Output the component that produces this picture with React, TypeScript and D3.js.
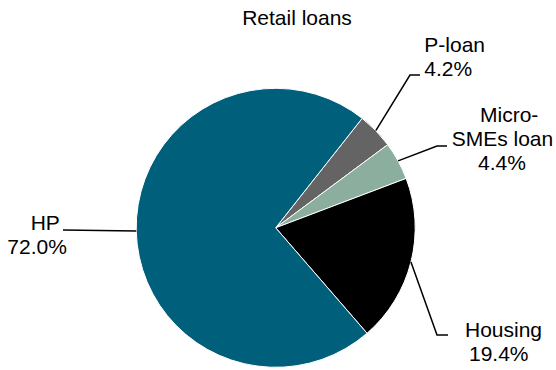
import React from "react";
import * as d3 from "d3";

const categories = ["P-loan", "Micro-SMEs loan", "Housing", "HP"];
const shares = [4.2, 4.4, 19.4, 72.0];
const labelLines = [
  ["P-loan", "4.2%"],
  ["Micro-", "SMEs loan", "4.4%"],
  ["Housing", "19.4%"],
  ["HP", "72.0%"],
];
const title = "Retail loans";

const colors = ["#646464", "#8BAE9E", "#000000", "#005F7A"];

// label layout: elbow/end of leader line, and per-line text x (start anchor) and baseline y
const layout = [
  { elbow: [410, 75], end: [420, 75], xs: [424.3, 424.3], y0: 51.5, dy: 24 },
  { elbow: [437, 146], end: [447, 146], xs: [480, 451.7, 478], y0: 121.7, dy: 24.3 },
  { elbow: [437, 335], end: [448, 335], xs: [465, 469], y0: 336.7, dy: 24.5 },
  { elbow: null, end: [63, 230], xs: [30.7, 7.3], y0: 230, dy: 23.5 },
];

export default function App() {
  const W = 556, H = 370;
  const cx = 275.7, cy = 227.8, r = 139.5;
  const startDeg = 38.3;
  const pie = d3
    .pie<number>()
    .sort(null)
    .value((d) => d)
    .startAngle((startDeg * Math.PI) / 180)
    .endAngle(((startDeg + 360) * Math.PI) / 180);
  const arcs = pie(shares);
  const arcGen = d3.arc<d3.PieArcDatum<number>>().innerRadius(0).outerRadius(r);

  return (
    <svg
      width={W}
      height={H}
      style={{ position: "absolute", left: 0, top: 0, fontFamily: "Liberation Sans, Arial, sans-serif" }}
    >
      <rect width={W} height={H} fill="#fff" />
      <text x={297} y={25} textAnchor="middle" fontSize={21} fill="#000">
        {title}
      </text>
      <g transform={`translate(${cx},${cy})`}>
        {arcs.map((a, i) => (
          <path key={categories[i]} d={arcGen(a) || ""} fill={colors[i]} stroke="#fff" strokeWidth={1} />
        ))}
      </g>
      {arcs.map((a, i) => {
        const mid = (a.startAngle + a.endAngle) / 2;
        const sx = cx + r * Math.sin(mid);
        const sy = cy - r * Math.cos(mid);
        const L = layout[i];
        const pts: number[][] = [[sx, sy]];
        if (L.elbow) pts.push(L.elbow);
        pts.push(L.end);
        const line = d3.line()(pts as [number, number][]) || "";
        return (
          <g key={"lab" + i}>
            <path d={line} fill="none" stroke="#000" strokeWidth={1.5} />
            {labelLines[i].map((t, j) => (
              <text key={j} x={L.xs[j]} y={L.y0 + j * L.dy} fontSize={21} fill="#000">
                {t}
              </text>
            ))}
          </g>
        );
      })}
    </svg>
  );
}
